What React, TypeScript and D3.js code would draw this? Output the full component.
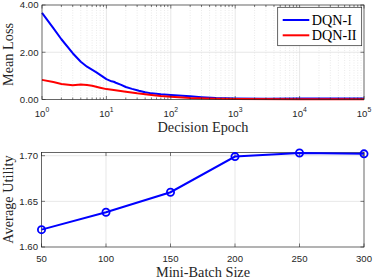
import React from 'react';
import * as d3 from 'd3';

// Top chart: mean loss over decision epochs (log x)
const blueEpochs = [1, 1.5, 2, 3, 4, 5, 7, 10, 12, 13, 14, 17, 20, 25, 30, 32, 40, 50, 70, 100, 150, 200, 300, 500, 1000, 3000, 10000, 30000, 100000];
const blueLoss = [3.67, 3.02, 2.55, 1.96, 1.6, 1.39, 1.15, 0.86, 0.77, 0.75, 0.71, 0.62, 0.53, 0.45, 0.39, 0.37, 0.31, 0.26, 0.22, 0.19, 0.16, 0.14, 0.1, 0.06, 0.04, 0.035, 0.04, 0.04, 0.04];
const redEpochs = [1, 1.5, 2, 3, 4, 5, 6, 8, 10, 13, 20, 30, 50, 70, 100, 200, 500, 1000, 10000, 100000];
const redLoss = [0.83, 0.74, 0.66, 0.6, 0.63, 0.61, 0.58, 0.5, 0.44, 0.4, 0.33, 0.26, 0.19, 0.15, 0.12, 0.06, 0.03, 0.02, 0.01, 0.01];
const lossTicks = [0, 2, 4];
const decadeTicks = [0, 1, 2, 3, 4, 5];

// Bottom chart: average utility vs mini-batch size
const batchSizes = [50, 100, 150, 200, 250, 300];
const utility = [1.619, 1.638, 1.66, 1.699, 1.703, 1.702];
const utilityTicks = [1.6, 1.65, 1.7];

const axisColor = '#262626';
const gridColor = '#dcdcdc';
const sans = '"Liberation Sans", Arial, sans-serif';
const serif = '"Liberation Serif", "Times New Roman", serif';
const labelSize = 14.3;
const tickSize = 9.6;

export default function App() {
  // top
  const x1 = d3.scaleLog().domain([1, 1e5]).range([42, 364]);
  const y1 = d3.scaleLinear().domain([0, 4]).range([99.5, 5]);
  const minor: number[] = [];
  for (let d = 0; d < 5; d++) for (let k = 2; k <= 9; k++) minor.push(k * Math.pow(10, d));
  const line1 = d3
    .line<[number, number]>()
    .x((d) => x1(d[0]))
    .y((d) => y1(d[1]));
  const bluePts = blueEpochs.map((e, i) => [e, blueLoss[i]] as [number, number]);
  const redPts = redEpochs.map((e, i) => [e, redLoss[i]] as [number, number]);

  // bottom
  const x2 = d3.scaleLinear().domain([50, 300]).range([41.5, 364]);
  const y2 = d3.scaleLinear().domain([1.6, 1.7035]).range([247, 152.5]);
  const line2 = d3
    .line<number>()
    .x((d, i) => x2(batchSizes[i]))
    .y((d) => y2(d));

  const [t1l, t1r] = x1.range();
  const [t1b, t1t] = y1.range();
  const [t2l, t2r] = x2.range();
  const [t2b, t2t] = y2.range();

  return (
    <svg width={374} height={278} style={{ position: 'absolute', left: 0, top: 0 }}>
      <rect width={374} height={278} fill="#fff" />

      {/* ---- top plot ---- */}
      {minor.map((m) => (
        <line key={'mg' + m} x1={x1(m)} x2={x1(m)} y1={t1t} y2={t1b} stroke={gridColor} strokeWidth={0.6} strokeDasharray="1,1.5" />
      ))}
      {decadeTicks.slice(1, -1).map((p) => (
        <line key={'dg' + p} x1={x1(Math.pow(10, p))} x2={x1(Math.pow(10, p))} y1={t1t} y2={t1b} stroke={gridColor} strokeWidth={0.7} />
      ))}
      {lossTicks.slice(1, -1).map((v) => (
        <line key={'lg' + v} x1={t1l} x2={t1r} y1={y1(v)} y2={y1(v)} stroke={gridColor} strokeWidth={0.7} />
      ))}
      <path d={line1(bluePts) ?? ''} fill="none" stroke="#0000ff" strokeWidth={2} strokeLinejoin="round" />
      <path d={line1(redPts) ?? ''} fill="none" stroke="#ff0000" strokeWidth={2} strokeLinejoin="round" />
      <rect x={t1l} y={t1t} width={t1r - t1l} height={t1b - t1t} fill="none" stroke={axisColor} strokeWidth={0.7} />
      {minor.map((m) => (
        <g key={'mt' + m} stroke={axisColor} strokeWidth={0.6}>
          <line x1={x1(m)} x2={x1(m)} y1={t1b} y2={t1b - 2} />
          <line x1={x1(m)} x2={x1(m)} y1={t1t} y2={t1t + 2} />
        </g>
      ))}
      {decadeTicks.map((p) => (
        <g key={'dt' + p}>
          <line x1={x1(Math.pow(10, p))} x2={x1(Math.pow(10, p))} y1={t1b} y2={t1b - 3.5} stroke={axisColor} strokeWidth={0.6} />
          <line x1={x1(Math.pow(10, p))} x2={x1(Math.pow(10, p))} y1={t1t} y2={t1t + 3.5} stroke={axisColor} strokeWidth={0.6} />
          <text x={x1(Math.pow(10, p))} y={116.7} textAnchor="middle" fontFamily={sans} fontSize={tickSize} fill={axisColor}>
            10
            <tspan dy={-4.8} fontSize={6.8}>
              {p}
            </tspan>
          </text>
        </g>
      ))}
      {lossTicks.map((v) => (
        <g key={'lt' + v}>
          <line x1={t1l} x2={t1l + 3.5} y1={y1(v)} y2={y1(v)} stroke={axisColor} strokeWidth={0.6} />
          <line x1={t1r} x2={t1r - 3.5} y1={y1(v)} y2={y1(v)} stroke={axisColor} strokeWidth={0.6} />
          <text x={t1l - 3.5} y={y1(v) + 3.4} textAnchor="end" fontFamily={sans} fontSize={tickSize} fill={axisColor}>
            {v.toFixed(2)}
          </text>
        </g>
      ))}
      <text x={203} y={131.7} textAnchor="middle" fontFamily={serif} fontSize={labelSize} fill={axisColor}>
        Decision Epoch
      </text>
      <text transform={`translate(12.8,54.5) rotate(-90)`} textAnchor="middle" fontFamily={serif} fontSize={labelSize} fill={axisColor}>
        Mean Loss
      </text>

      {/* legend */}
      <g>
        <rect x={277.7} y={7.3} width={84} height={38.4} fill="#fff" stroke={axisColor} strokeWidth={0.7} />
        <line x1={282.7} x2={309.3} y1={20} y2={20} stroke="#0000ff" strokeWidth={2} />
        <text x={311.7} y={24.8} fontFamily={serif} fontSize={14.2} fill="#000">
          DQN-I
        </text>
        <line x1={282.7} x2={309.3} y1={35.3} y2={35.3} stroke="#ff0000" strokeWidth={2} />
        <text x={311.7} y={40.1} fontFamily={serif} fontSize={14.2} fill="#000">
          DQN-II
        </text>
      </g>

      {/* ---- bottom plot ---- */}
      {batchSizes.slice(1, -1).map((b) => (
        <line key={'bg' + b} x1={x2(b)} x2={x2(b)} y1={t2t} y2={t2b} stroke={gridColor} strokeWidth={0.7} />
      ))}
      {utilityTicks.slice(1).map((v) => (
        <line key={'ug' + v} x1={t2l} x2={t2r} y1={y2(v)} y2={y2(v)} stroke={gridColor} strokeWidth={0.7} />
      ))}
      <rect x={t2l} y={t2t} width={t2r - t2l} height={t2b - t2t} fill="none" stroke={axisColor} strokeWidth={0.7} />
      {batchSizes.map((b) => (
        <g key={'bt' + b}>
          <line x1={x2(b)} x2={x2(b)} y1={t2b} y2={t2b - 3.5} stroke={axisColor} strokeWidth={0.6} />
          <line x1={x2(b)} x2={x2(b)} y1={t2t} y2={t2t + 3.5} stroke={axisColor} strokeWidth={0.6} />
          <text x={x2(b)} y={262.3} textAnchor="middle" fontFamily={sans} fontSize={tickSize} fill={axisColor}>
            {b}
          </text>
        </g>
      ))}
      {utilityTicks.map((v) => (
        <g key={'ut' + v}>
          <line x1={t2l} x2={t2l + 3.5} y1={y2(v)} y2={y2(v)} stroke={axisColor} strokeWidth={0.6} />
          <line x1={t2r} x2={t2r - 3.5} y1={y2(v)} y2={y2(v)} stroke={axisColor} strokeWidth={0.6} />
          <text x={t2l - 3.5} y={y2(v) + 3.4} textAnchor="end" fontFamily={sans} fontSize={tickSize} fill={axisColor}>
            {v.toFixed(2)}
          </text>
        </g>
      ))}
      <path d={line2(utility) ?? ''} fill="none" stroke="#0000ff" strokeWidth={2} />
      {utility.map((u, i) => (
        <circle key={'pt' + i} cx={x2(batchSizes[i])} cy={y2(u)} r={3.6} fill="none" stroke="#0000ff" strokeWidth={1.8} />
      ))}
      <text x={203} y={276.5} textAnchor="middle" fontFamily={serif} fontSize={labelSize} fill={axisColor}>
        Mini-Batch Size
      </text>
      <text transform={`translate(12.8,199.5) rotate(-90)`} textAnchor="middle" fontFamily={serif} fontSize={labelSize} fill={axisColor}>
        Average Utility
      </text>
    </svg>
  );
}
